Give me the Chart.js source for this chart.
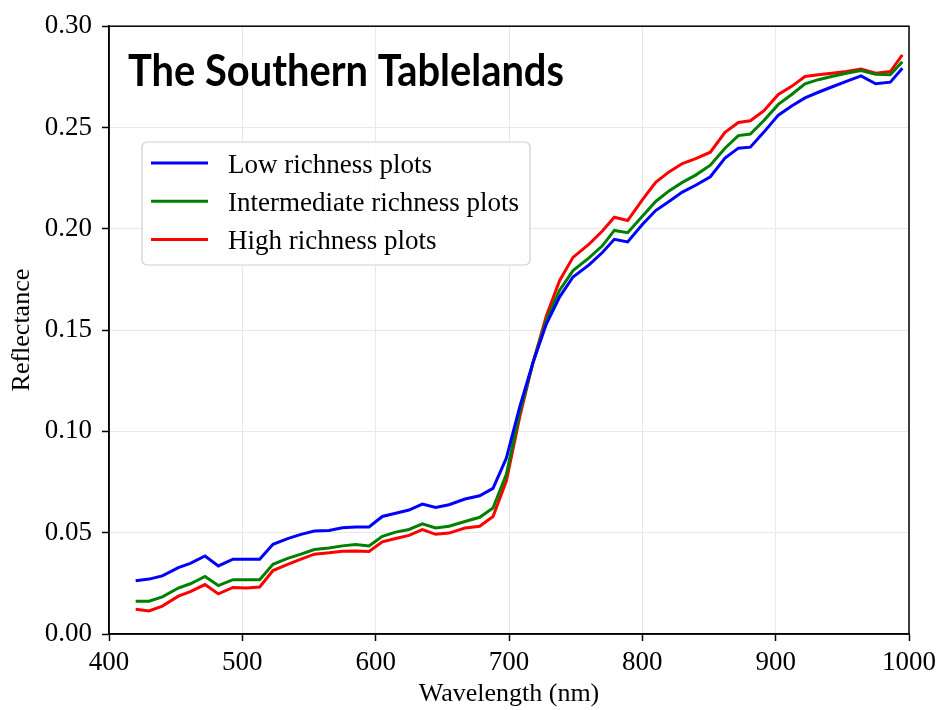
<!DOCTYPE html>
<html>
<head>
<meta charset="utf-8">
<script src="https://cdn.jsdelivr.net/npm/chart.js@4.4.1/dist/chart.umd.min.js"></script>
<style>
  html, body { margin: 0; padding: 0; background: #fff; }
  #wrap { width: 943px; height: 710px; }
</style>
</head>
<body>
<div id="wrap"><canvas id="spectra" width="943" height="710"></canvas></div>
<script>
// wavelengths (nm) of the sampled bands
const wavelengths = [420, 430, 440, 452, 461, 472, 482, 493, 503, 513, 523, 534, 544, 554, 565, 575, 585, 595,
    605, 615, 625, 635, 645, 655, 667, 678, 688, 698, 708, 718, 728, 738, 748, 760, 770, 779, 789, 800,
    810, 820, 830, 840, 851, 862, 872, 881, 891, 902, 912, 922, 932, 942, 953, 964, 975, 986, 995];

const lowRichness = [0.0263, 0.0271, 0.0287, 0.0328, 0.0349, 0.0385, 0.0336, 0.0369, 0.0369, 0.0369, 0.0443,
    0.0471, 0.0492, 0.0508, 0.0511, 0.0524, 0.0528, 0.0528, 0.0580, 0.0596, 0.0612, 0.0641, 0.0625, 0.0638,
    0.0666, 0.0682, 0.0719, 0.0868, 0.1120, 0.1340, 0.1530, 0.1664, 0.1762, 0.1822, 0.1883, 0.1948, 0.1935,
    0.2021, 0.2090, 0.2135, 0.2181, 0.2215, 0.2257, 0.2349, 0.2398, 0.2403, 0.2476, 0.2561, 0.2606, 0.2646,
    0.2674, 0.2700, 0.2728, 0.2755, 0.2716, 0.2724, 0.2792];

const intermediateRichness = [0.0162, 0.0162, 0.0183, 0.0227, 0.0248, 0.0284, 0.0239, 0.0268, 0.0268, 0.0268,
    0.0344, 0.0373, 0.0394, 0.0417, 0.0425, 0.0435, 0.0442, 0.0435, 0.0482, 0.0503, 0.0516, 0.0544, 0.0523,
    0.0532, 0.0555, 0.0576, 0.0622, 0.0788, 0.1090, 0.1340, 0.1550, 0.1697, 0.1794, 0.1856, 0.1916, 0.1992,
    0.1981, 0.2062, 0.2135, 0.2187, 0.2229, 0.2265, 0.2314, 0.2398, 0.2460, 0.2468, 0.2533, 0.2614, 0.2663,
    0.2716, 0.2736, 0.2752, 0.2768, 0.2781, 0.2763, 0.2760, 0.2825];

const highRichness = [0.0122, 0.0114, 0.0138, 0.0187, 0.0209, 0.0244, 0.0198, 0.0230, 0.0227, 0.0232, 0.0313,
    0.0344, 0.0370, 0.0394, 0.0401, 0.0409, 0.0410, 0.0407, 0.0455, 0.0471, 0.0487, 0.0515, 0.0492, 0.0498,
    0.0523, 0.0532, 0.0580, 0.0755, 0.1070, 0.1340, 0.1570, 0.1745, 0.1859, 0.1924, 0.1989, 0.2057, 0.2041,
    0.2143, 0.2229, 0.2281, 0.2322, 0.2346, 0.2378, 0.2476, 0.2525, 0.2533, 0.2582, 0.2663, 0.2703, 0.2752,
    0.2760, 0.2768, 0.2776, 0.2788, 0.2768, 0.2776, 0.2858];

const seriesLabels = ['Low richness plots', 'Intermediate richness plots', 'High richness plots'];
const seriesColors = ['#0000ff', '#008000', '#ff0000'];
const xTickValues = [400, 500, 600, 700, 800, 900, 1000];
const yTickValues = [0, 0.05, 0.10, 0.15, 0.20, 0.25, 0.30];
const chartTitle = 'The Southern Tablelands';

const serif = '"Liberation Serif", "Times New Roman", serif';

function toPoints(values) {
    return values.map((v, i) => ({ x: wavelengths[i], y: v }));
}

// black box round the plot area, like matplotlib spines
const framePlugin = {
    id: 'frame',
    afterDatasetsDraw(chart) {
        const { ctx, chartArea: a } = chart;
        ctx.save();
        ctx.strokeStyle = '#000';
        ctx.lineWidth = 1.5;
        ctx.strokeRect(a.left, a.top, a.right - a.left, a.bottom - a.top);
        ctx.restore();
    }
};

// title inside the axes + framed legend in the upper left
const overlayPlugin = {
    id: 'overlay',
    afterDraw(chart) {
        const ctx = chart.ctx;
        ctx.save();

        // title, squeezed a bit to look like a narrow bold face
        ctx.font = 'bold 43px Lato, "Open Sans", sans-serif';
        ctx.fillStyle = '#000';
        ctx.textBaseline = 'alphabetic';
        const w = ctx.measureText(chartTitle).width;
        ctx.translate(128, 86);
        ctx.scale(436 / w, 1);
        ctx.fillText(chartTitle, 0, 0);
        ctx.setTransform(1, 0, 0, 1, 0, 0);

        // legend frame
        const bx = 142, by = 142, bw = 388, bh = 123;
        ctx.beginPath();
        ctx.roundRect(bx, by, bw, bh, 5);
        ctx.fillStyle = 'rgba(255,255,255,0.85)';
        ctx.fill();
        ctx.strokeStyle = '#d0d0d0';
        ctx.lineWidth = 1.2;
        ctx.stroke();

        ctx.font = '27px ' + serif;
        chart.data.datasets.forEach((ds, i) => {
            const y = 163 + i * 38.2;
            ctx.beginPath();
            ctx.moveTo(151, y);
            ctx.lineTo(208, y);
            ctx.strokeStyle = ds.borderColor;
            ctx.lineWidth = 3;
            ctx.stroke();
            ctx.fillStyle = '#000';
            ctx.fillText(ds.label, 228, y + 9.5);
        });
        ctx.restore();
    }
};

const seriesValues = [lowRichness, intermediateRichness, highRichness];

new Chart(document.getElementById('spectra'), {
    type: 'line',
    data: {
        datasets: seriesValues.map((vals, i) => ({
            label: seriesLabels[i],
            data: toPoints(vals),
            borderColor: seriesColors[i],
            backgroundColor: seriesColors[i],
            borderWidth: 3,
            pointRadius: 0,
            tension: 0,
            fill: false
        }))
    },
    options: {
        responsive: false,
        animation: false,
        layout: { padding: { top: 18, right: 34, left: 0, bottom: 0 } },
        plugins: {
            legend: { display: false },
            tooltip: { enabled: false }
        },
        scales: {
            x: {
                type: 'linear',
                min: 400,
                max: 1000,
                afterBuildTicks: s => { s.ticks = xTickValues.map(v => ({ value: v })); },
                afterFit: s => { s.height = 76; },
                grid: { color: '#e8e8e8', lineWidth: 1, tickColor: '#000', tickLength: 7, tickWidth: 1.5 },
                border: { color: '#000', width: 1.5 },
                ticks: { color: '#000', font: { family: serif, size: 27 }, padding: 6, maxRotation: 0,
                    callback: v => String(v) },
                title: { display: true, text: 'Wavelength (nm)', color: '#000',
                    font: { family: serif, size: 26 }, padding: { top: 0, bottom: 0 } }
            },
            y: {
                min: 0,
                max: 0.30,
                afterBuildTicks: s => { s.ticks = yTickValues.map(v => ({ value: v })); },
                afterFit: s => { s.width = 109; },
                grid: { color: '#e8e8e8', lineWidth: 1, tickColor: '#000', tickLength: 7, tickWidth: 1.5 },
                border: { color: '#000', width: 1.5 },
                ticks: { color: '#000', font: { family: serif, size: 27 }, padding: 10,
                    callback: v => v.toFixed(2) },
                title: { display: true, text: 'Reflectance', color: '#000',
                    font: { family: serif, size: 26 }, padding: { top: 7, bottom: 0 } }
            }
        }
    },
    plugins: [framePlugin, overlayPlugin]
});
</script>
</body>
</html>
